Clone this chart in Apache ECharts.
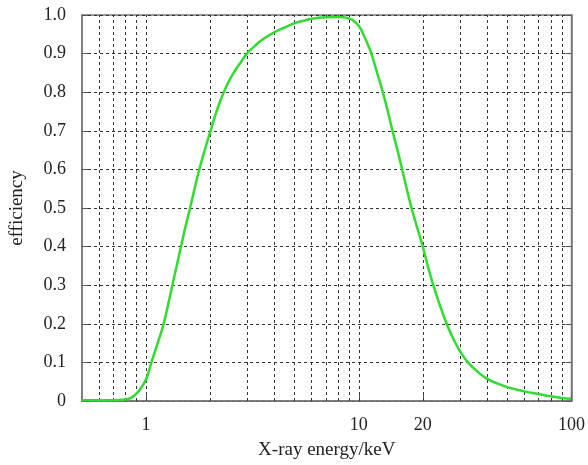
<!DOCTYPE html>
<html>
<head>
<meta charset="UTF-8">
<script src="https://cdn.jsdelivr.net/npm/echarts@6/dist/echarts.min.js"></script>
<style>
  body { margin: 0; background: #fff; }
  #main { width: 588px; height: 465px; }
</style>
<title>efficiency</title>
</head>
<body>
<div id="main"></div>
<script type="text/javascript">
  // curve: energy (keV) and efficiency
  var energy = [0.5, 0.6, 0.7, 0.8, 0.85, 0.9, 0.95, 1.0, 1.03, 1.06, 1.1, 1.15, 1.21, 1.27, 1.33, 1.4, 1.46, 1.53,
                1.61, 1.7, 1.78, 1.9, 2.01, 2.15, 2.3, 2.45, 2.6, 2.8, 2.98, 3.25, 3.5, 4, 4.5, 5, 5.5, 6, 7, 8,
                8.5, 8.9, 9.2, 9.5, 10, 10.3, 10.6, 11, 11.46, 12.2, 12.97, 13.7, 14.4, 15.2, 16, 16.8, 17.7, 18.8,
                20, 21.1, 22.4, 24, 25.9, 27.5, 29, 30.5, 32.6, 36, 40, 45, 50, 60, 70, 80, 90, 100];
  var efficiency = [0.002, 0.002, 0.002, 0.004, 0.008, 0.019, 0.035, 0.056, 0.077, 0.1, 0.127, 0.16, 0.2, 0.25, 0.3, 0.355, 0.4, 0.45,
                    0.5, 0.555, 0.6, 0.655, 0.7, 0.752, 0.795, 0.828, 0.853, 0.879, 0.9, 0.92, 0.935, 0.955, 0.968, 0.979, 0.985, 0.99, 0.994, 0.995,
                    0.994, 0.992, 0.989, 0.984, 0.972, 0.96, 0.945, 0.925, 0.9, 0.85, 0.8, 0.75, 0.7, 0.65, 0.6, 0.55, 0.5, 0.45,
                    0.4, 0.35, 0.3, 0.25, 0.2, 0.167, 0.142, 0.122, 0.1, 0.077, 0.058, 0.045, 0.036, 0.025, 0.018, 0.012, 0.008, 0.006];
  var xLabels = [1, 10, 20, 100];
  var xGrid = [0.6, 0.7, 0.8, 0.9, 1, 2, 3, 4, 5, 6, 7, 8, 9, 10, 20, 30, 40, 50, 60, 70, 80, 90];

  var font = 'Liberation Serif';
  var pts = [];
  for (var i = 0; i < energy.length; i++) pts.push([energy[i], efficiency[i]]);
  var gridLines = [];
  for (var j = 0; j < xGrid.length; j++) gridLines.push({ xAxis: xGrid[j] });

  var myChart = echarts.init(document.getElementById('main'));
  var option = {
    animation: false,
    grid: { left: 79, right: 15, top: 15, bottom: 63.5, show: true, borderColor: '#777', borderWidth: 1.5 },
    xAxis: {
      type: 'log', logBase: 10, min: 0.5, max: 100,
      name: 'X-ray energy/keV', nameLocation: 'middle', nameGap: 40,
      nameTextStyle: { fontFamily: font, fontSize: 19, color: '#222' },
      axisLine: { lineStyle: { color: '#777', width: 1.5 } },
      axisTick: { inside: true, length: 6, customValues: xLabels, lineStyle: { color: '#555' } },
      axisLabel: { customValues: xLabels, fontFamily: font, fontSize: 18, color: '#222', margin: 15 },
      splitLine: { show: false }
    },
    yAxis: [{
      type: 'value', min: 0, max: 1, interval: 0.1,
      name: 'efficiency', nameLocation: 'middle', nameGap: 55,
      nameTextStyle: { fontFamily: font, fontSize: 19, color: '#222' },
      axisLine: { show: true, lineStyle: { color: '#777', width: 1.5 } },
      axisTick: { inside: true, length: 6, lineStyle: { color: '#555' } },
      axisLabel: {
        fontFamily: font, fontSize: 18, color: '#222', margin: 16,
        formatter: function (v) { return v === 0 ? '0' : v.toFixed(1); }
      },
      splitLine: { lineStyle: { color: '#333', type: [3, 3], width: 1 } }
    }, {
      type: 'value', min: 0, max: 1, interval: 0.1, position: 'right',
      axisLine: { show: true, lineStyle: { color: '#777', width: 1.5 } },
      axisTick: { inside: true, length: 6, lineStyle: { color: '#555' } },
      axisLabel: { show: false },
      splitLine: { show: false }
    }],
    series: [{
      type: 'line', z: 1, data: [], silent: true,
      markLine: {
        silent: true, symbol: 'none', label: { show: false },
        lineStyle: { color: '#333', type: [3, 3], width: 1 },
        data: gridLines
      }
    }, {
      name: 'efficiency', type: 'line', z: 10, smooth: 0.5,
      showSymbol: false, data: pts,
      lineStyle: { color: '#2fdc2f', width: 2.5 }
    }]
  };
  myChart.setOption(option);
</script>
</body>
</html>
